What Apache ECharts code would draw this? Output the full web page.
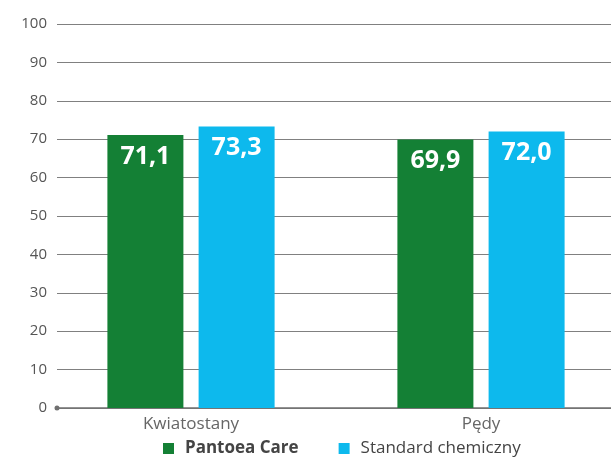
<!DOCTYPE html>
<html>
<head>
<meta charset="utf-8">
<script src="https://cdn.jsdelivr.net/npm/echarts@6/dist/echarts.min.js"></script>
<style>
  html, body { margin: 0; padding: 0; background: #fff; }
  #chart { width: 611px; height: 461px; }
</style>
</head>
<body>
<div id="chart"></div>
<script>
// Chart data
const categories = ['Kwiatostany', 'Pędy'];
const pantoeaCare = [71.1, 69.9];
const standardChemiczny = [73.3, 72.0];
const yTicks = [0, 10, 20, 30, 40, 50, 60, 70, 80, 90, 100];

const seriesNames = ['Pantoea Care', 'Standard chemiczny'];
const colors = ['#148035', '#0db9ed'];
const font = '"Open Sans", sans-serif';

const fmt = v => v.toFixed(1).replace('.', ',');

const chart = echarts.init(document.getElementById('chart'), null, { renderer: 'canvas' });

const barLabel = {
  show: true,
  position: 'insideTop',
  distance: 9,
  color: '#fff',
  fontFamily: font,
  fontWeight: 'bold',
  fontSize: 25,
  formatter: p => fmt(p.value)
};

chart.setOption({
  animation: false,
  backgroundColor: '#fff',
  grid: [
    // frame with the value scale and gridlines
    { left: 57, right: 0, top: 24, bottom: 53, outerBoundsMode: 'none' },
    // band layout for the bar groups (extends past the right edge)
    { left: 46, right: -15, top: 24, bottom: 53, outerBoundsMode: 'none' }
  ],
  legend: {
    left: 158,
    top: 435,
    itemWidth: 11,
    itemHeight: 11,
    itemGap: 40,
    icon: 'rect',
    data: [
      { name: seriesNames[0], textStyle: { fontWeight: 'bold', color: '#444', fontSize: 17, fontFamily: font } },
      { name: seriesNames[1], textStyle: { fontWeight: 'normal', color: '#444', fontSize: 17, fontFamily: font } }
    ],
    textStyle: { fontFamily: font, fontSize: 17, padding: [0, 0, 0, 6] }
  },
  xAxis: [
    {
      gridIndex: 0,
      type: 'value',
      min: 0,
      max: 1,
      axisLine: {
        show: true,
        symbol: ['circle', 'none'],
        symbolSize: [5, 5],
        lineStyle: { color: '#707070', width: 1.5 }
      },
      axisTick: { show: false },
      axisLabel: { show: false },
      splitLine: { show: false }
    },
    {
      gridIndex: 1,
      type: 'category',
      data: categories,
      axisLine: { show: false },
      axisTick: { show: false },
      axisLabel: {
        color: '#666',
        fontFamily: font,
        fontSize: 17,
        margin: 8
      },
      splitLine: { show: false }
    }
  ],
  yAxis: [
    {
      gridIndex: 0,
      type: 'value',
      min: yTicks[0],
      max: yTicks[yTicks.length - 1],
      interval: yTicks[1] - yTicks[0],
      axisLine: { show: false },
      axisTick: { show: false },
      axisLabel: {
        color: '#555',
        fontFamily: font,
        fontSize: 15,
        margin: 10
      },
      splitLine: { lineStyle: { color: '#808080', width: 1 } }
    },
    {
      gridIndex: 1,
      type: 'value',
      min: yTicks[0],
      max: yTicks[yTicks.length - 1],
      show: false
    }
  ],
  series: [
    {
      name: seriesNames[0],
      type: 'bar',
      xAxisIndex: 1,
      yAxisIndex: 1,
      data: pantoeaCare,
      barWidth: 76,
      barGap: '20%',
      itemStyle: { color: colors[0] },
      label: barLabel,
      z: 3
    },
    {
      name: seriesNames[1],
      type: 'bar',
      xAxisIndex: 1,
      yAxisIndex: 1,
      data: standardChemiczny,
      barWidth: 76,
      barGap: '20%',
      itemStyle: { color: colors[1] },
      label: barLabel,
      z: 3
    }
  ]
});
</script>
</body>
</html>
